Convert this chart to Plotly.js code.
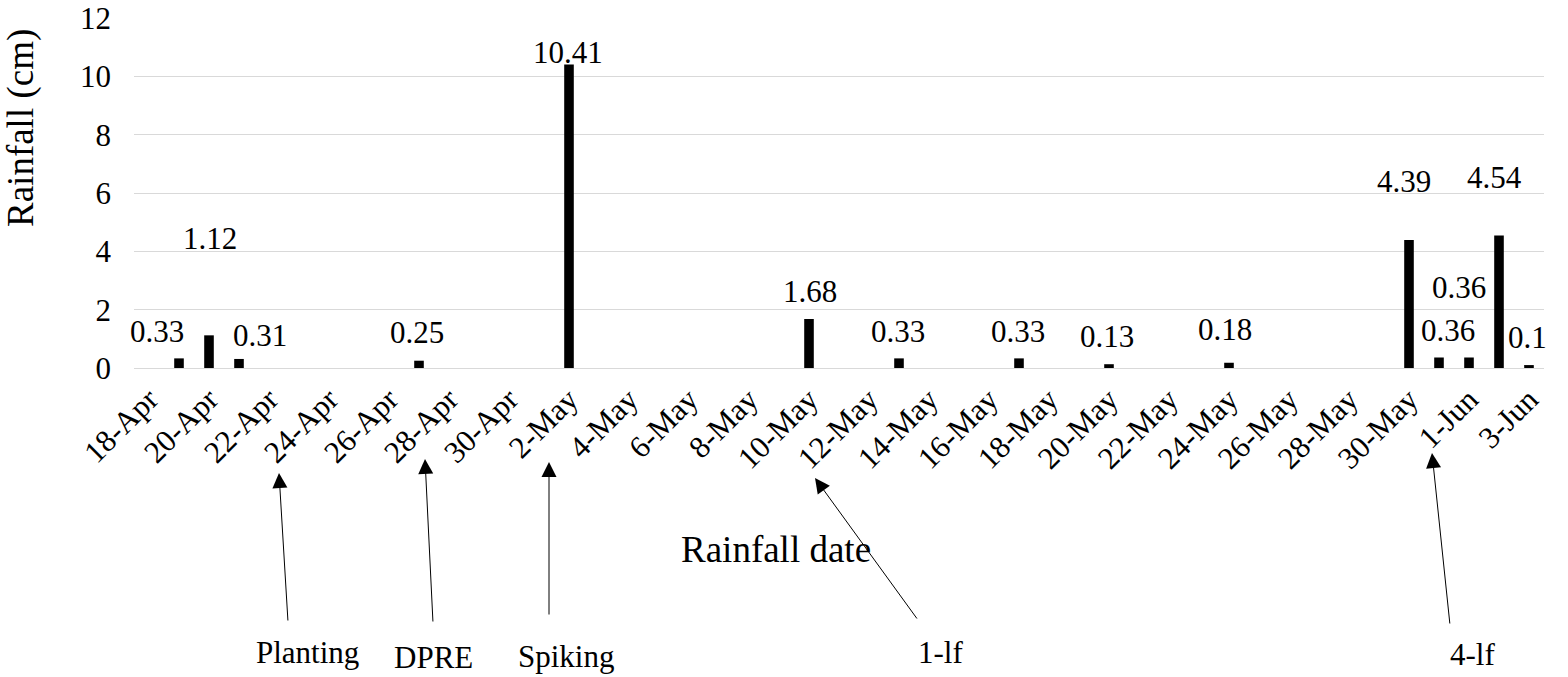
<!DOCTYPE html>
<html><head><meta charset="utf-8">
<script src="https://cdn.plot.ly/plotly-3.0.1.min.js"></script>
<style>
html,body{margin:0;padding:0;background:#fff}
#chart{width:1568px;height:677px}
#chart svg text{font-family:'Liberation Serif' !important}
</style>
</head><body><div id="chart"></div>
<script>
// ---- data ----
const allDates = ['18-Apr','19-Apr','20-Apr','21-Apr','22-Apr','23-Apr','24-Apr','25-Apr','26-Apr','27-Apr','28-Apr','29-Apr','30-Apr',
  '1-May','2-May','3-May','4-May','5-May','6-May','7-May','8-May','9-May','10-May','11-May','12-May','13-May','14-May','15-May','16-May',
  '17-May','18-May','19-May','20-May','21-May','22-May','23-May','24-May','25-May','26-May','27-May','28-May','29-May','30-May','31-May',
  '1-Jun','2-Jun','3-Jun'];
const tickDates = ['18-Apr','20-Apr','22-Apr','24-Apr','26-Apr','28-Apr','30-Apr','2-May','4-May','6-May','8-May','10-May','12-May',
  '14-May','16-May','18-May','20-May','22-May','24-May','26-May','28-May','30-May','1-Jun','3-Jun'];
const rainDates = ['19-Apr','20-Apr','21-Apr','27-Apr','2-May','10-May','13-May','17-May','20-May','24-May','30-May','31-May','1-Jun','2-Jun','3-Jun'];
const rainValues = [0.33,1.12,0.31,0.25,10.41,1.68,0.33,0.33,0.13,0.18,4.39,0.36,0.36,4.54,0.1];
const yTicks = [0,2,4,6,8,10,12];
const stageNames = ['Planting','DPRE','Spiking','1-lf','4-lf'];
const xTitle = 'Rainfall date';
const yTitle = 'Rainfall (cm)';

// ---- styling / placement ----
const FONT = 'Liberation Serif';
const W = 1568, H = 677;
const M = {l:134, r:24, t:18, b:309};
const pw = W - M.l - M.r, ph = H - M.t - M.b;
const px2x = p => (p - M.l) / pw;
const py2y = p => (M.t + ph - p) / ph;

// pixel shifts of each data label relative to its bar top
const labelShift = [[-22,27],[1,97],[21,23],[-2,28],[-1,12],[1,28],[-1,27],[-1,27],[-2,28],[-4,33],[-5,58],[9,27],[-10,70],[-5,58],[-2,28]];
// stage arrows: tip, tail, text centre (pixels)
const stageGeom = [
  {tip:[279,473], tail:[288,622], txt:[307,652]},
  {tip:[425,459], tail:[433,623], txt:[433,657]},
  {tip:[549,462], tail:[549,616], txt:[566,656]},
  {tip:[815,478], tail:[918,620], txt:[940,652]},
  {tip:[1432,453], tail:[1450,625], txt:[1472,654]}
];

const annotations = [];
rainDates.forEach((d, i) => {
  annotations.push({
    x: d, y: rainValues[i], xref: 'x', yref: 'y', text: String(rainValues[i]),
    showarrow: false, xanchor: 'center', yanchor: 'middle',
    xshift: labelShift[i][0], yshift: labelShift[i][1],
    font: {family: FONT, size: 31, color: '#000'}
  });
});
stageNames.forEach((name, i) => {
  const g = stageGeom[i];
  annotations.push({
    xref: 'paper', yref: 'paper', x: px2x(g.tip[0]), y: py2y(g.tip[1]),
    axref: 'pixel', ayref: 'pixel', ax: g.tail[0] - g.tip[0], ay: g.tail[1] - g.tip[1],
    text: '', showarrow: true, arrowhead: 2, arrowsize: 3, arrowwidth: 1, arrowcolor: '#000',
    standoff: 0, startstandoff: 0, font: {family: FONT, size: 1}
  });
  annotations.push({
    xref: 'paper', yref: 'paper', x: px2x(g.txt[0]), y: py2y(g.txt[1]),
    text: name, showarrow: false, xanchor: 'center', yanchor: 'middle',
    font: {family: FONT, size: 31, color: '#000'}
  });
});
// axis titles
annotations.push({xref:'paper', yref:'paper', x: px2x(776), y: py2y(549), text: xTitle, showarrow:false,
  xanchor:'center', yanchor:'middle', font:{family: FONT, size: 37, color:'#000'}});
annotations.push({xref:'paper', yref:'paper', x: px2x(21), y: py2y(128), text: yTitle, showarrow:false, textangle:-90,
  xanchor:'center', yanchor:'middle', font:{family: FONT, size: 37, color:'#000'}});

const trace = {
  type: 'bar', x: rainDates, y: rainValues,
  marker: {color: '#000000'}, hoverinfo: 'x+y'
};

const layout = {
  width: W, height: H, margin: M,
  paper_bgcolor: '#fff', plot_bgcolor: '#fff',
  showlegend: false, bargap: 0.68,
  font: {family: FONT, color: '#000'},
  xaxis: {
    type: 'category', categoryorder: 'array', categoryarray: allDates,
    range: [-0.5, allDates.length - 0.5],
    tickmode: 'array', tickvals: tickDates, ticktext: tickDates,
    tickangle: -45, ticks: '', showgrid: false, zeroline: false, showline: false,
    tickfont: {family: FONT, size: 31, color: '#000'}, ticklabelstandoff: 6
  },
  yaxis: {
    range: [0, 12], tickmode: 'array', tickvals: yTicks,
    showgrid: true, gridcolor: '#d9d9d9', gridwidth: 1,
    zeroline: true, zerolinecolor: '#d9d9d9', zerolinewidth: 1, showline: false, ticks: '',
    tickfont: {family: FONT, size: 31, color: '#000'}, ticklabelstandoff: 22
  },
  annotations: annotations
};

Plotly.newPlot('chart', [trace], layout, {displayModeBar: false, staticPlot: true});
</script>
</body></html>
